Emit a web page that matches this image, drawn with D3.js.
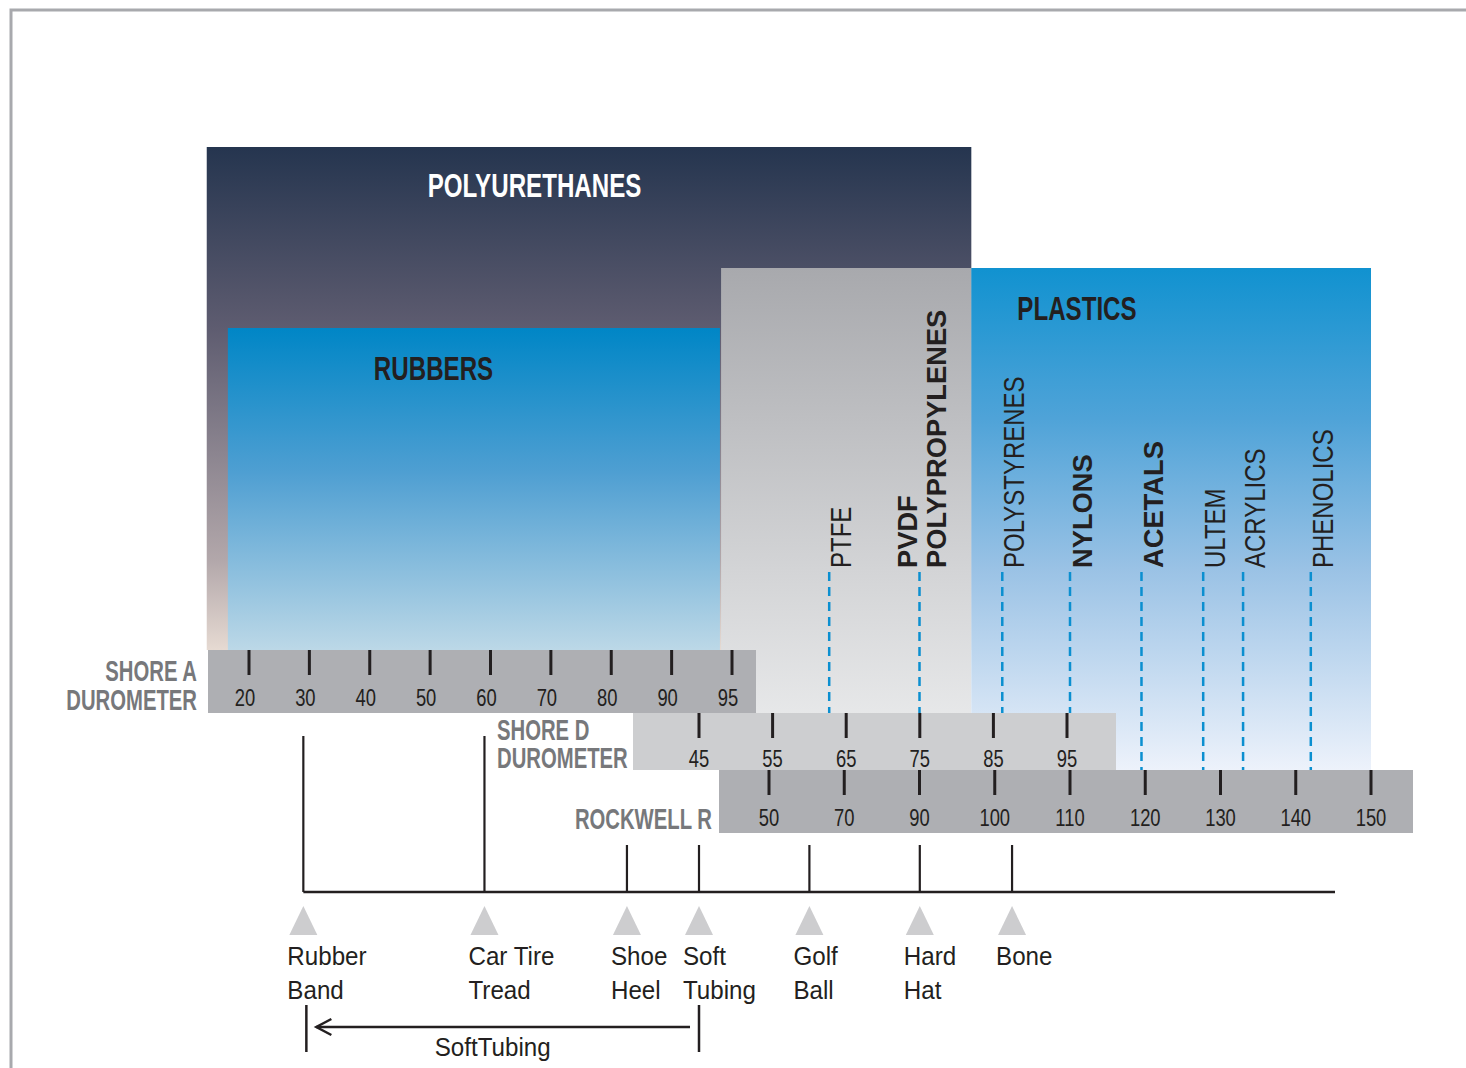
<!DOCTYPE html>
<html lang="en">
<head>
    <meta charset="UTF-8">
    <title>Hardness Scales</title>
    <script src="https://d3js.org/d3.v7.min.js"></script>
    <style>
        body { margin: 0; background: #fff; }
        svg { display: block; }
    </style>
</head>
<body>
<div id="chart"></div>
<script>
    // scale ticks
    const shoreATicks = [20, 30, 40, 50, 60, 70, 80, 90, 95];
    const shoreDTicks = [45, 55, 65, 75, 85, 95];
    const rockwellTicks = [50, 70, 90, 100, 110, 120, 130, 140, 150];

    // material families (ranges given as [scale, value])
    const blockNames = ["POLYURETHANES", "RUBBERS", "", "PLASTICS"];
    const blockFrom = [["A", 13], ["A", 16.5], ["D", 48], ["D", 82]];
    const blockTo = [["D", 82], ["A", 94], ["D", 82], ["R", 150]];

    // individual plastics, placed on the Rockwell R scale
    const materialNames = [["PTFE"], ["PVDF", "POLYPROPYLENES"], ["POLYSTYRENES"], ["NYLONS"],
        ["ACETALS"], ["ULTEM"], ["ACRYLICS"], ["PHENOLICS"]];
    const materialRockwell = [66, 90, 101, 110, 119.5, 127.7, 133, 142];

    // everyday examples
    const exampleNames = [["Rubber", "Band"], ["Car Tire", "Tread"], ["Shoe", "Heel"], ["Soft", "Tubing"],
        ["Golf", "Ball"], ["Hard", "Hat"], ["Bone"]];
    const exampleHardness = [["A", 29], ["A", 59], ["A", 82.6], ["D", 45], ["D", 60], ["D", 75], ["R", 102.3]];

    const rangeName = "SoftTubing";
    const rangeFrom = ["A", 29.5];
    const rangeTo = ["D", 45];

    // scale titles
    const scaleTitles = [["SHORE A", "DUROMETER"], ["SHORE D", "DUROMETER"], ["ROCKWELL R"]];

    // ---- styling / layout ----
    const W = 1466, H = 1068;
    const boldMaterials = new Set(["PVDF", "POLYPROPYLENES", "NYLONS", "ACETALS"]);
    const dark = "#231f20";
    const titleGray = "#77787b";
    const font = "'Liberation Sans', Arial, Helvetica, sans-serif";

    const pointA = d3.scalePoint().domain(shoreATicks).range([249, 732]);
    const pointD = d3.scalePoint().domain(shoreDTicks).range([699, 1067]);
    const pointR = d3.scalePoint().domain(rockwellTicks).range([769, 1371]);

    // piecewise linear scales through the tick positions
    const scales = {
        A: d3.scaleLinear().domain(shoreATicks).range(shoreATicks.map(pointA)),
        D: d3.scaleLinear().domain(shoreDTicks).range(shoreDTicks.map(pointD)),
        R: d3.scaleLinear().domain(rockwellTicks).range(rockwellTicks.map(pointR))
    };
    const pos = ([s, v]) => scales[s](v);

    const bars = [
        {key: "A", ticks: shoreATicks, y: 650, h: 63, pad: [41, 24], fill: "#aeafb3", labelY: 706, dx: -4},
        {key: "D", ticks: shoreDTicks, y: 713, h: 57, pad: [66, 49], fill: "#cdced0", labelY: 767, dx: 0},
        {key: "R", ticks: rockwellTicks, y: 770, h: 63, pad: [50, 42], fill: "#aeafb3", labelY: 826, dx: 0}
    ];
    const barA = bars[0], barD = bars[1], barR = bars[2];

    const blockStyle = [
        {top: 147, bottom: barA.y, grad: "gPoly", fill: "#fff", tx: 221, ty: 197},
        {top: 328, bottom: barA.y, grad: "gRub", fill: dark, tx: 146, ty: 380},
        {top: 268, bottom: barR.y, grad: "gGray", fill: dark, tx: 0, ty: 0},
        {top: 268, bottom: barR.y, grad: "gPlas", fill: dark, tx: 46, ty: 320}
    ];

    const titleStyle = [
        {x: 197, y: 681, step: 29, anchor: "end"},
        {x: 497, y: 740, step: 28, anchor: "start"},
        {x: 712, y: 829, step: 0, anchor: "end"}
    ];

    const svg = d3.select("#chart")
        .append("svg")
        .attr("width", W)
        .attr("height", H)
        .attr("viewBox", `0 0 ${W} ${H}`)
        .style("font-family", font);

    const defs = svg.append("defs");
    const gradients = {
        gPoly: [[0, "#25354f"], [0.36, "#5e5c70"], [0.82, "#b2a7aa"], [1, "#e6dad2"]],
        gRub: [[0, "#0086c6"], [0.45, "#4f9fd2"], [1, "#bcd8e7"]],
        gGray: [[0, "#a8a9ad"], [0.6, "#d3d4d6"], [1, "#eeeff0"]],
        gPlas: [[0, "#1192d0"], [0.3, "#4fa3d8"], [0.6, "#9ac2e5"], [1, "#edf2fb"]]
    };
    Object.entries(gradients).forEach(([id, stops]) => {
        const g = defs.append("linearGradient").attr("id", id)
            .attr("x1", 0).attr("y1", 0).attr("x2", 0).attr("y2", 1);
        stops.forEach(([o, c]) => g.append("stop").attr("offset", o).attr("stop-color", c));
    });

    // frame
    svg.append("path")
        .attr("d", `M11,${H}V10H${W}`)
        .attr("fill", "none")
        .attr("stroke", "#a8a9ad")
        .attr("stroke-width", 3);

    // family blocks
    const blocks = blockNames.map((name, i) => ({
        name, x0: pos(blockFrom[i]), x1: pos(blockTo[i]), ...blockStyle[i]
    }));

    svg.append("g").selectAll("rect")
        .data(blocks)
        .join("rect")
        .attr("x", d => d.x0)
        .attr("y", d => d.top)
        .attr("width", d => d.x1 - d.x0)
        .attr("height", d => d.bottom - d.top)
        .attr("fill", d => `url(#${d.grad})`);

    svg.append("g").selectAll("text")
        .data(blocks.filter(d => d.name))
        .join("text")
        .attr("transform", d => `translate(${d.x0 + d.tx},${d.ty}) scale(0.71,1)`)
        .attr("font-size", 34)
        .attr("font-weight", "bold")
        .attr("fill", d => d.fill)
        .text(d => d.name);

    // materials: dashed lines and rotated names
    const materials = materialNames.map((lines, i) => {
        const x = scales.R(materialRockwell[i]);
        const inD = x < pointD(shoreDTicks[shoreDTicks.length - 1]) + barD.pad[1];
        return {lines, x, bottom: inD ? barD.y : barR.y};
    });

    svg.append("g").selectAll("line")
        .data(materials)
        .join("line")
        .attr("x1", d => d.x).attr("x2", d => d.x)
        .attr("y1", 572).attr("y2", d => d.bottom)
        .attr("stroke", "#0b8fd0")
        .attr("stroke-width", 2.5)
        .attr("stroke-dasharray", "9 6");

    const matLabels = materials.flatMap(m => m.lines.map((t, j) => ({
        text: t, x: m.x + 22 - (m.lines.length - 1) * 25 + j * 29
    })));

    svg.append("g").selectAll("text")
        .data(matLabels)
        .join("text")
        .attr("transform", d => boldMaterials.has(d.text)
            ? `translate(${d.x},568) rotate(-90) scale(0.975,1)`
            : `translate(${d.x},568) rotate(-90) scale(0.8,1)`)
        .attr("font-size", d => boldMaterials.has(d.text) ? 28 : 30)
        .attr("font-weight", d => boldMaterials.has(d.text) ? "bold" : "normal")
        .attr("fill", dark)
        .text(d => d.text);

    // scale bars
    bars.forEach(b => {
        const p = {A: pointA, D: pointD, R: pointR}[b.key];
        const x0 = p(b.ticks[0]) - b.pad[0];
        const x1 = p(b.ticks[b.ticks.length - 1]) + b.pad[1];
        const g = svg.append("g");
        g.append("rect")
            .attr("x", x0).attr("y", b.y)
            .attr("width", x1 - x0).attr("height", b.h)
            .attr("fill", b.fill);
        g.selectAll("line")
            .data(b.ticks)
            .join("line")
            .attr("x1", d => p(d)).attr("x2", d => p(d))
            .attr("y1", b.y).attr("y2", b.y + 25)
            .attr("stroke", dark)
            .attr("stroke-width", 3);
        g.selectAll("text")
            .data(b.ticks)
            .join("text")
            .attr("transform", d => `translate(${p(d) + b.dx},${b.labelY}) scale(0.8,1)`)
            .attr("text-anchor", "middle")
            .attr("font-size", 23)
            .attr("fill", dark)
            .text(d => d);
    });

    // scale titles (one text element each, lines as tspans)
    svg.append("g").selectAll("text")
        .data(scaleTitles.map((lines, i) => ({lines, ...titleStyle[i]})))
        .join("text")
        .attr("transform", d => `translate(${d.x},${d.y}) scale(0.7,1)`)
        .attr("text-anchor", d => d.anchor)
        .attr("font-size", 29)
        .attr("font-weight", "bold")
        .attr("fill", titleGray)
        .each(function (d) {
            d3.select(this).selectAll("tspan")
                .data(d.lines)
                .join("tspan")
                .attr("x", 0)
                .attr("y", (t, j) => j * d.step)
                .text(t => t);
        });

    // everyday examples
    const timelineY = 892;
    const examples = exampleNames.map((lines, i) => {
        const x = pos(exampleHardness[i]);
        return {lines, x, top: x < 490 ? 736 : 845};
    });

    const ex = svg.append("g");
    ex.append("line")
        .attr("x1", examples[0].x).attr("x2", 1335)
        .attr("y1", timelineY).attr("y2", timelineY)
        .attr("stroke", dark).attr("stroke-width", 2.5);

    ex.selectAll(".conn")
        .data(examples)
        .join("line")
        .attr("class", "conn")
        .attr("x1", d => d.x).attr("x2", d => d.x)
        .attr("y1", d => d.top).attr("y2", timelineY)
        .attr("stroke", dark).attr("stroke-width", 2.2);

    ex.selectAll("path")
        .data(examples)
        .join("path")
        .attr("d", d => `M${d.x},906L${d.x + 14},935L${d.x - 14},935Z`)
        .attr("fill", "#cdcdcf");

    ex.selectAll(".exlabel")
        .data(examples)
        .join("text")
        .attr("class", "exlabel")
        .attr("font-size", 26)
        .attr("fill", dark)
        .each(function (d) {
            d3.select(this).selectAll("tspan")
                .data(d.lines)
                .join("tspan")
                .attr("x", 0)
                .attr("y", (t, j) => j * 34)
                .text(t => t);
        })
        .attr("transform", d => `translate(${d.x - 16},965) scale(0.93,1)`);

    // soft tubing range
    const rx0 = pos(rangeFrom), rx1 = pos(rangeTo);
    const rg = svg.append("g")
        .attr("stroke", dark).attr("stroke-width", 2.5).attr("fill", "none");
    rg.selectAll(".v")
        .data([rx0, rx1])
        .join("line")
        .attr("class", "v")
        .attr("x1", d => d).attr("x2", d => d)
        .attr("y1", 1005).attr("y2", 1052);
    rg.append("line")
        .attr("x1", rx1 - 9).attr("x2", rx0 + 10)
        .attr("y1", 1027).attr("y2", 1027);
    rg.append("path")
        .attr("d", `M${rx0 + 25},1019L${rx0 + 10},1027L${rx0 + 25},1035`);

    svg.append("text")
        .attr("transform", `translate(${(rx0 + rx1) / 2 - 10},1056) scale(0.93,1)`)
        .attr("text-anchor", "middle")
        .attr("font-size", 26)
        .attr("fill", dark)
        .text(rangeName);
</script>
</body>
</html>
